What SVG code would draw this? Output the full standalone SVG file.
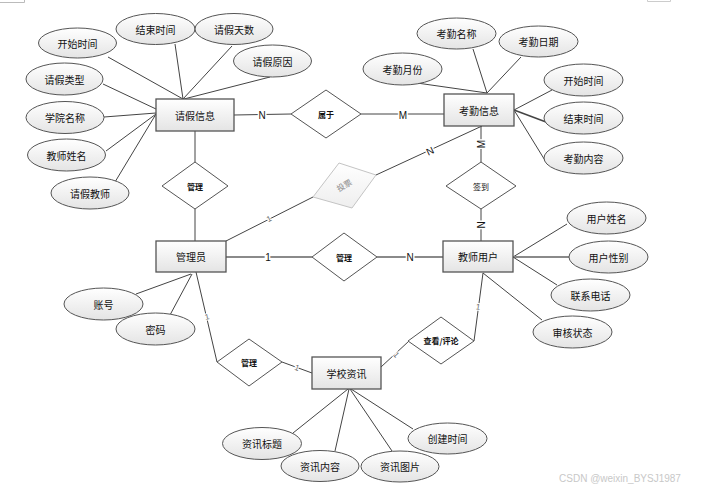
<svg xmlns="http://www.w3.org/2000/svg" width="713" height="492" viewBox="0 0 713 492">
<defs>
<linearGradient id="g" x1="0" y1="0" x2="0" y2="1">
<stop offset="0" stop-color="#ffffff"/>
<stop offset="1" stop-color="#e4e4e4"/>
</linearGradient>
<linearGradient id="gf" x1="0" y1="0" x2="0" y2="1">
<stop offset="0" stop-color="#ffffff"/>
<stop offset="1" stop-color="#eeeeee"/>
</linearGradient>
</defs>
<style>
.ent{fill:url(#g);stroke:#555;stroke-width:1.3}
.att{fill:url(#g);stroke:#555;stroke-width:1}
.rel{fill:#fff;stroke:#555;stroke-width:1}
.t{font-family:"Noto Sans CJK SC","Noto Sans",sans-serif;font-size:10px;fill:#111;text-anchor:middle;dominant-baseline:central}
.rt{font-family:"Noto Sans CJK SC","Noto Sans",sans-serif;font-size:8px;font-weight:bold;fill:#111;text-anchor:middle;dominant-baseline:central}
.ln{stroke:#444;stroke-width:1;fill:none}
.lg{stroke:#8a8a8a;stroke-width:2;fill:none}
.c{font-family:"Liberation Sans",Arial,sans-serif;font-size:10px;fill:#111;text-anchor:middle;dominant-baseline:central;stroke:#fff;stroke-width:3;paint-order:stroke}
.cs{font-family:"Liberation Sans",Arial,sans-serif;font-size:8px;fill:#666;text-anchor:middle;dominant-baseline:central;stroke:#fff;stroke-width:2;paint-order:stroke}
</style>
<rect width="713" height="492" fill="#fff"/>
<path d="M0 2.5H24.5V0" stroke="#bbb" fill="none"/>
<path d="M647.5 0V1.5H670.5V0" stroke="#ccc" fill="none"/>

<g id="connectors">
<!-- 请假信息 attributes -->
<line class="ln" x1="108" y1="57" x2="183" y2="99"/>
<line class="ln" x1="175" y1="44" x2="183" y2="99"/>
<line class="ln" x1="232" y1="46" x2="183" y2="99"/>
<line class="ln" x1="270" y1="77" x2="184" y2="99"/>
<line class="ln" x1="103" y1="84" x2="156" y2="109"/>
<line class="ln" x1="104" y1="117" x2="156" y2="113"/>
<line class="ln" x1="106" y1="151" x2="156" y2="114"/>
<line class="ln" x1="115" y1="182" x2="156" y2="114"/>
<!-- 考勤信息 attributes -->
<line class="ln" x1="473" y1="49" x2="487" y2="93"/>
<line class="ln" x1="521" y1="57" x2="487" y2="93"/>
<line class="ln" x1="417" y1="83" x2="487" y2="93"/>
<line class="ln" x1="552" y1="90" x2="514" y2="110"/>
<line class="ln" x1="546" y1="122" x2="514" y2="110" style="stroke-width:1.5"/>
<line class="ln" x1="546" y1="162" x2="514" y2="110"/>
<!-- 管理员 attributes -->
<line class="ln" x1="136" y1="294" x2="191" y2="274"/>
<line class="ln" x1="170" y1="315" x2="192" y2="274"/>
<!-- 教师用户 attributes -->
<line class="ln" x1="567" y1="224" x2="513" y2="257"/>
<line class="lg" x1="569" y1="257" x2="513" y2="257"/>
<line class="ln" x1="557" y1="285" x2="513" y2="257"/>
<line class="ln" x1="542" y1="320" x2="483" y2="273"/>
<!-- 学校资讯 attributes -->
<line class="ln" x1="293" y1="433" x2="348" y2="389"/>
<line class="ln" x1="335" y1="451" x2="349" y2="389"/>
<line class="ln" x1="392" y1="451" x2="350" y2="389"/>
<line class="ln" x1="413" y1="429" x2="351" y2="389"/>
<!-- relationships -->
<line class="ln" x1="234" y1="115" x2="291" y2="114"/>
<line class="ln" x1="361" y1="114" x2="444" y2="114"/>
<line class="ln" x1="195" y1="131" x2="195" y2="162"/>
<line class="ln" x1="195" y1="209" x2="195" y2="241"/>
<line class="ln" x1="481" y1="126" x2="481" y2="162"/>
<line class="ln" x1="481" y1="209" x2="481" y2="241"/>
<line class="ln" x1="226" y1="241" x2="313" y2="197"/>
<line class="ln" x1="376" y1="175" x2="482" y2="126"/>
<line class="lg" x1="226" y1="257" x2="312" y2="257"/>
<line class="lg" x1="377" y1="257" x2="443" y2="257"/>
<line class="ln" x1="196" y1="272" x2="217" y2="362"/>
<line class="ln" x1="282" y1="362" x2="312" y2="373"/>
<line class="ln" x1="381" y1="367" x2="409" y2="341"/>
<line class="ln" x1="474" y1="341" x2="483" y2="273"/>
<!-- cardinalities -->
<text class="c" x="262" y="115">N</text>
<text class="c" x="403" y="115">M</text>
<text class="c" transform="translate(481,144) rotate(-90)">M</text>
<text class="c" transform="translate(481,225) rotate(-90)">N</text>
<text class="c" transform="translate(430,151) rotate(-25)">N</text>
<text class="cs" transform="translate(269,219) rotate(-27)">1</text>
<text class="c" x="268" y="257">1</text>
<text class="c" x="410" y="257">N</text>
<text class="cs" transform="translate(207,317) rotate(-13)">1</text>
<text class="cs" transform="translate(297,368) rotate(20)">1</text>
<text class="cs" transform="translate(396,355) rotate(47)">1</text>
<text class="cs" transform="translate(478,307) rotate(8)">1</text>
</g>

<g id="n-qjxx"><rect class="ent" x="156" y="99" width="78" height="32"/><text class="t" x="195" y="115">请假信息</text></g>
<g id="n-kqxx"><rect class="ent" x="444" y="94" width="70" height="32"/><text class="t" x="479" y="110">考勤信息</text></g>
<g id="n-gly"><rect class="ent" x="156" y="241" width="70" height="31"/><text class="t" x="191" y="256.5">管理员</text></g>
<g id="n-jsyh"><rect class="ent" x="443" y="241" width="70" height="31"/><text class="t" x="478" y="256.5">教师用户</text></g>
<g id="n-xxzx"><rect class="ent" x="312" y="357" width="69" height="32"/><text class="t" x="346.5" y="373">学校资讯</text></g>

<g id="r-sy"><polygon class="rel" points="291,114 326,90 361,114 326,138"/><text class="rt" x="326" y="114">属于</text></g>
<g id="r-gl1"><polygon class="rel" points="162,186 195,162 228,186 195,209"/><text class="rt" x="195" y="186">管理</text></g>
<g id="r-qd"><polygon class="rel" points="446,186 481,162 516,186 481,209"/><text class="rt" x="481" y="186" style="font-weight:normal">签到</text></g>
<g id="r-tp"><polygon points="313,197 339,163 376,175 352,208" fill="url(#gf)" stroke="#c4c4c4" stroke-width="1"/><text class="rt" transform="translate(344,185) rotate(-30)" style="fill:#888;font-weight:normal">投票</text></g>
<g id="r-gl2"><polygon class="rel" points="312,257 344,233 377,257 344,281"/><text class="rt" x="344" y="257">管理</text></g>
<g id="r-gl3"><polygon class="rel" points="217,362 249,339 282,362 249,386"/><text class="rt" x="249" y="362">管理</text></g>
<g id="r-ckpl"><polygon class="rel" points="408,341 441,317 474,341 441,364"/><text class="rt" x="441" y="340.5">查看/评论</text></g>

<g id="a-ksj1"><ellipse class="att" cx="77.5" cy="43" rx="39" ry="15"/><text class="t" x="77.5" y="43">开始时间</text></g>
<g id="a-jssj1"><ellipse class="att" cx="155.5" cy="29" rx="39.5" ry="15.5"/><text class="t" x="155.5" y="29">结束时间</text></g>
<g id="a-qjts"><ellipse class="att" cx="234" cy="29" rx="39" ry="15.5"/><text class="t" x="234" y="29">请假天数</text></g>
<g id="a-qjyy"><ellipse class="att" cx="272.5" cy="61" rx="39" ry="16"/><text class="t" x="272.5" y="61">请假原因</text></g>
<g id="a-qjlx"><ellipse class="att" cx="64.5" cy="79" rx="38.5" ry="16"/><text class="t" x="64.5" y="79">请假类型</text></g>
<g id="a-xymc"><ellipse class="att" cx="65" cy="117.5" rx="39" ry="16"/><text class="t" x="65" y="117.5">学院名称</text></g>
<g id="a-jsxm"><ellipse class="att" cx="66.5" cy="155" rx="39" ry="16"/><text class="t" x="66.5" y="155">教师姓名</text></g>
<g id="a-qjjs"><ellipse class="att" cx="90" cy="193" rx="39" ry="16"/><text class="t" x="90" y="193">请假教师</text></g>

<g id="a-kqmc"><ellipse class="att" cx="456.5" cy="33.5" rx="39.5" ry="15.5"/><text class="t" x="456.5" y="33.5">考勤名称</text></g>
<g id="a-kqrq"><ellipse class="att" cx="538.5" cy="41.5" rx="39.5" ry="15.5"/><text class="t" x="538.5" y="41.5">考勤日期</text></g>
<g id="a-kqyf"><ellipse class="att" cx="402.5" cy="69" rx="39.5" ry="16"/><text class="t" x="402.5" y="69">考勤月份</text></g>
<g id="a-ksj2"><ellipse class="att" cx="583.5" cy="80" rx="39.5" ry="16"/><text class="t" x="583.5" y="80">开始时间</text></g>
<g id="a-jssj2"><ellipse class="att" cx="583.5" cy="118" rx="39.5" ry="16"/><text class="t" x="583.5" y="118">结束时间</text></g>
<g id="a-kqnr"><ellipse class="att" cx="583.5" cy="158" rx="39.5" ry="16"/><text class="t" x="583.5" y="158">考勤内容</text></g>

<g id="a-zh"><ellipse class="att" cx="103.5" cy="304" rx="39.5" ry="16"/><text class="t" x="103.5" y="304">账号</text></g>
<g id="a-mm"><ellipse class="att" cx="155.5" cy="329" rx="39.5" ry="16"/><text class="t" x="155.5" y="329">密码</text></g>

<g id="a-yhxm"><ellipse class="att" cx="606.5" cy="218" rx="39.5" ry="16"/><text class="t" x="606.5" y="218">用户姓名</text></g>
<g id="a-yhxb"><ellipse class="att" cx="608.5" cy="257" rx="39.5" ry="16"/><text class="t" x="608.5" y="257">用户性别</text></g>
<g id="a-lxdh"><ellipse class="att" cx="590.5" cy="295" rx="39.5" ry="16"/><text class="t" x="590.5" y="295">联系电话</text></g>
<g id="a-shzt"><ellipse class="att" cx="572.5" cy="332" rx="39.5" ry="16"/><text class="t" x="572.5" y="332">审核状态</text></g>

<g id="a-zxbt"><ellipse class="att" cx="262" cy="443.5" rx="39.5" ry="16"/><text class="t" x="262" y="443.5">资讯标题</text></g>
<g id="a-zxnr"><ellipse class="att" cx="320" cy="466" rx="39" ry="15.5"/><text class="t" x="320" y="466">资讯内容</text></g>
<g id="a-zxtp"><ellipse class="att" cx="400" cy="466.5" rx="39" ry="15.5"/><text class="t" x="400" y="466.5">资讯图片</text></g>
<g id="a-cjsj"><ellipse class="att" cx="447.5" cy="438.5" rx="39.5" ry="15.5"/><text class="t" x="447.5" y="438.5">创建时间</text></g>

<text x="620" y="478" style="font-family:'Liberation Sans',Arial,sans-serif;font-size:10px;fill:#c8c8c8;text-anchor:middle;dominant-baseline:central">CSDN @weixin_BYSJ1987</text>
</svg>
